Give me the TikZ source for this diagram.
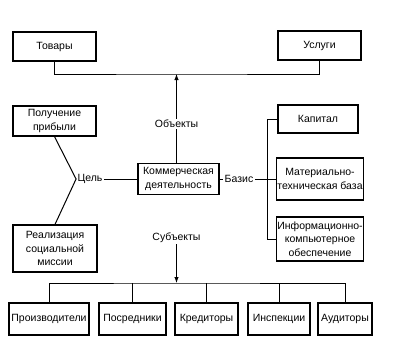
\documentclass[tikz,border=0pt]{standalone}
\usepackage{fontspec}
\setmainfont{Liberation Sans}
\usepackage{tikz}
\usetikzlibrary{arrows.meta,positioning}

\begin{document}
\begin{tikzpicture}[x=1pt, y=-1pt,
  box/.style={draw, line width=1.2pt, align=center, inner sep=1pt, font=\fontsize{10.5}{13.5}\selectfont},
  lbl/.style={inner sep=1pt, font=\fontsize{10.5}{13.5}\selectfont},
  arr/.style={-{Latex[length=6pt,width=4.5pt]}},
  every path/.style={line width=1pt}
]
\useasboundingbox (0,0) rectangle (394,362);
% top row
\node[box, minimum width=83pt, minimum height=29pt] (tov) at (54.5,46.5) {Товары};
\node[box, minimum width=83pt, minimum height=29pt] (usl) at (319.5,45.5) {Услуги};
% left
\node[box, minimum width=83pt, minimum height=30pt] (prib) at (54.5,121) {Получение\\прибыли};
\node[box, minimum width=84pt, minimum height=47pt] (real) at (55,248.5) {Реализация\\социальной\\миссии};
% centre
\node[box, minimum width=81pt, minimum height=31pt] (kom) at (178.5,179) {Коммерческая\\деятельность};
% right
\node[box, minimum width=80pt, minimum height=28pt] (kap) at (318,119) {Капитал};
\node[box, minimum width=85pt, minimum height=42pt] (mtb) at (320,179) {Материально-\\техническая база};
\node[box, minimum width=85pt, minimum height=44pt] (inf) at (320,239) {Информационно-\\компьютерное\\обеспечение};
% bottom row
\node[box, minimum width=80pt, minimum height=32pt] (proizv) at (49,319) {Производители};
\node[box, minimum width=67pt, minimum height=32pt] (posr) at (132.5,319) {Посредники};
\node[box, minimum width=63pt, minimum height=32pt] (kred) at (206.5,319) {Кредиторы};
\node[box, minimum width=62pt, minimum height=32pt] (insp) at (279,319) {Инспекции};
\node[box, minimum width=54pt, minimum height=32pt] (aud) at (345,319) {Аудиторы};
% labels
\node[lbl] (obj) at (176.5,124) {Объекты};
\node[lbl] (cel) at (90,179) {Цель};
\node[lbl] (baz) at (239,179) {Базис};
\node[lbl] (subj) at (176.5,238) {Субъекты};
\coordinate (topbus) at (176.5,74);
\coordinate (subbus) at (176.5,283);
% objects
\draw (tov.south) |- (topbus) -| (usl.south);
\draw (kom.north -| obj) -- (obj);
\draw[arr] (obj) -- (topbus);
% goal
\draw (prib.south) -- (cel.west) -- (real.north);
\draw (cel) -- (kom);
% basis
\draw (kom) -- (baz) -- (mtb);
\draw (kap.west) -- ++(-10,0) |- (inf.west);
% subjects
\draw[arr] (subj) -- (subbus);
\draw (proizv.north) |- (subbus) -| (aud.north);
\foreach \n in {posr,kred,insp}
  \draw (\n.north) -- (\n.north |- subbus);
\end{tikzpicture}
\end{document}
